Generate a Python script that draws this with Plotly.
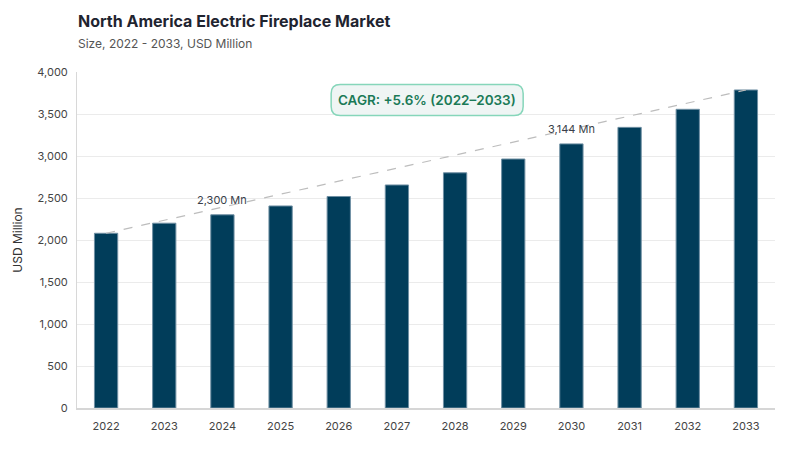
import plotly.graph_objects as go

years = [2022, 2023, 2024, 2025, 2026, 2027, 2028, 2029, 2030, 2031, 2032, 2033]
market_size = [2080, 2200, 2300, 2405, 2518, 2655, 2800, 2964, 3144, 3341, 3556, 3786]
labeled_years = [2024, 2030]
cagr_text = "CAGR: +5.6% (2022–2033)"

fig = go.Figure()

fig.add_trace(go.Bar(
    x=years,
    y=market_size,
    width=0.4,
    marker=dict(color="#013d5a", line=dict(color="#6f8fa3", width=1)),
    hoverinfo="x+y",
))

# trend line from first to last bar
fig.add_trace(go.Scatter(
    x=[years[0], years[-1]],
    y=[market_size[0], market_size[-1]],
    mode="lines",
    line=dict(color="#bdbdbd", width=1.2, dash="dash"),
    hoverinfo="skip",
))

for yr in labeled_years:
    v = market_size[years.index(yr)]
    fig.add_annotation(
        x=yr, y=v, text=f"{v:,} Mn", showarrow=False,
        yshift=15, font=dict(size=11, color="#3a3f4a"),
    )

# rounded CAGR box (pixel-sized path around an anchor)
w, h, r = 96, 15.5, 9
box = (f"M {-w + r},{-h} L {w - r},{-h} Q {w},{-h} {w},{-h + r} "
       f"L {w},{h - r} Q {w},{h} {w - r},{h} L {-w + r},{h} "
       f"Q {-w},{h} {-w},{h - r} L {-w},{-h + r} Q {-w},{-h} {-w + r},{-h} Z")
fig.add_shape(
    type="path", path=box, xref="x", yref="y",
    xsizemode="pixel", ysizemode="pixel", xanchor=2027.52, yanchor=3667,
    fillcolor="#eff5f4", line=dict(color="#86d6ba", width=1.5), layer="above",
)
fig.add_annotation(
    x=2027.52, y=3667, text=cagr_text, showarrow=False,
    font=dict(size=13.5, color="#1b7a57", weight=600),
)

fig.update_layout(
    width=800, height=450,
    paper_bgcolor="white", plot_bgcolor="white",
    font=dict(family="Inter, sans-serif", color="#444"),
    margin=dict(l=69, r=33, t=64, b=50, autoexpand=False),
    showlegend=False,
    title=dict(
        text="<b>North America Electric Fireplace Market</b><br>"
             "<span style='font-size:12px;color:#555'>Size, 2022 - 2033, USD Million</span>",
        x=0.0875, xanchor="left", y=0.958, yanchor="top",
        font=dict(size=16, color="#1f2430"),
    ),
)

fig.update_xaxes(
    tickmode="array", tickvals=years, ticktext=[str(y) for y in years],
    range=[2021.5, 2033.5], showgrid=False,
    showline=True, linecolor="#d6d6d6", linewidth=2,
    ticks="", ticklabelstandoff=7, tickfont=dict(size=11, color="#444"),
)

fig.update_yaxes(
    range=[0, 4000], dtick=500, tickformat=",",
    showgrid=True, gridcolor="#ebebeb", gridwidth=1,
    showline=True, linecolor="#d8d8d8", linewidth=1,
    zeroline=False, ticks="", ticklen=0, ticklabelstandoff=6,
    tickfont=dict(size=11, color="#444"),
    title=dict(text="USD Million", font=dict(size=12, color="#333"), standoff=12),
)

fig.write_html("out.html")
